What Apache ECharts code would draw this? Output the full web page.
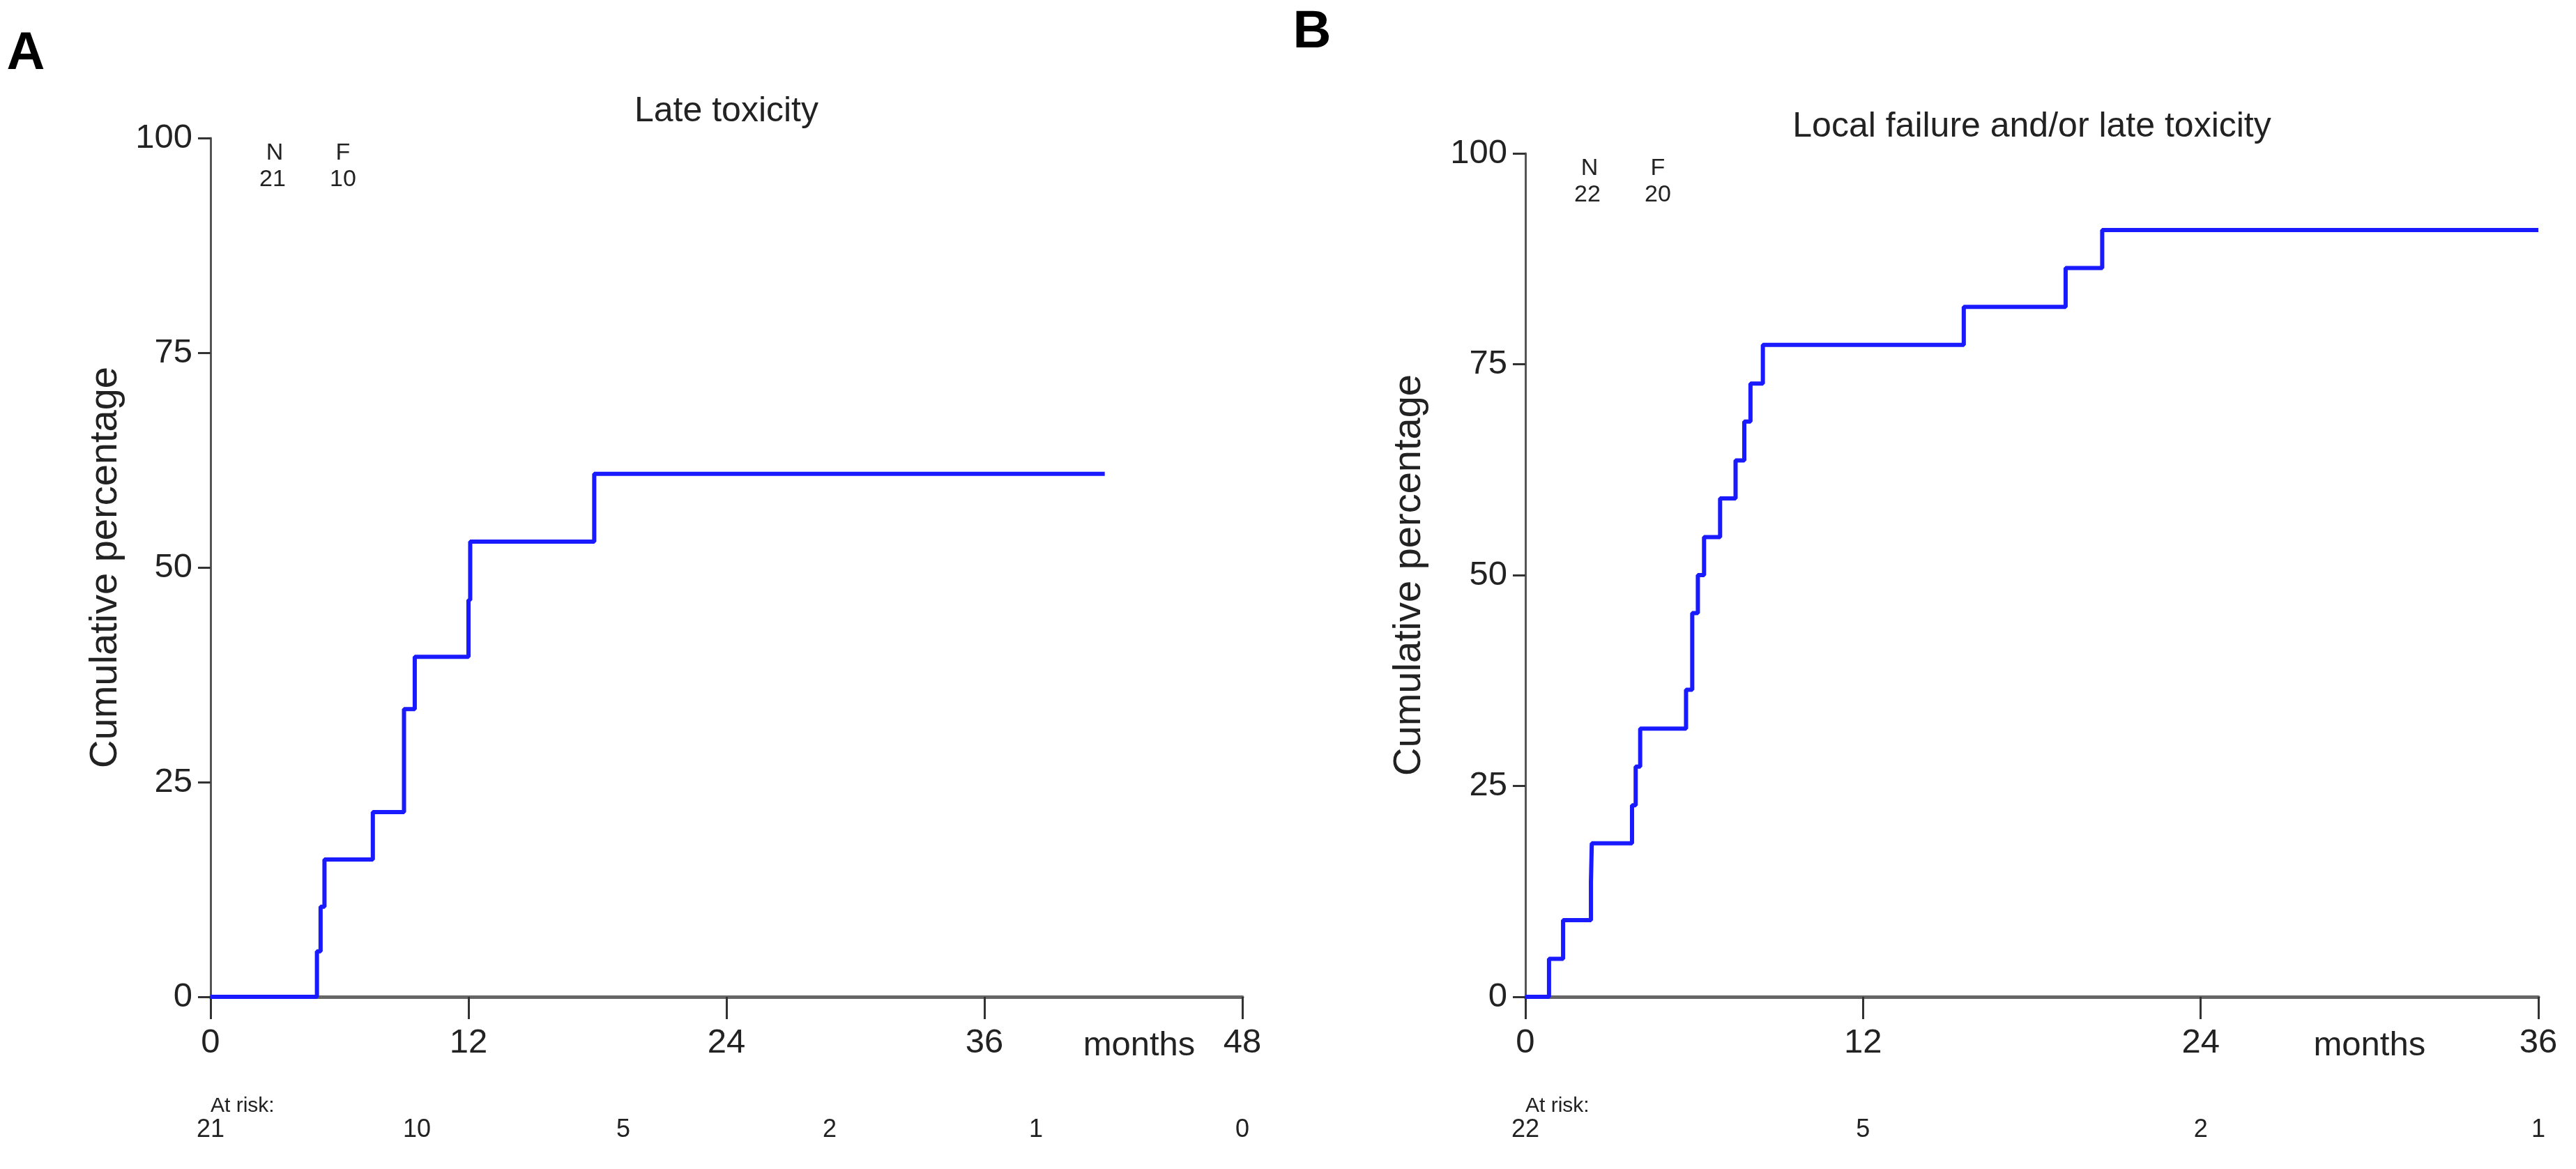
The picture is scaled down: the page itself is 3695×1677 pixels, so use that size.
<!DOCTYPE html>
<html>
<head>
<meta charset="utf-8">
<script src="https://cdn.jsdelivr.net/npm/echarts@6/dist/echarts.min.js"></script>
<style>
html,body{margin:0;padding:0;background:#fff;}
#c{width:3695px;height:1677px;}
</style>
</head>
<body>
<div id="c"></div>
<script>
// ---- Data ----
const panelLabels = ['A', 'B'];
const titles = ['Late toxicity', 'Local failure and/or late toxicity'];
const yTicks = [0, 25, 50, 75, 100];

// Panel A: Late toxicity (step times in months, cumulative %)
const timesA  = [0, 4.95, 5.12, 5.3, 7.55, 9.0, 9.5, 12.0, 12.08, 17.85, 41.6];
const valuesA = [0, 5.3, 10.5, 16.0, 21.5, 33.5, 39.6, 46.2, 53.0, 60.9, 60.9];
const xTicksA = [0, 12, 24, 36, 48];
const nfA = { N: 21, F: 10 };
const riskTimesA = [0, 9.6, 19.2, 28.8, 38.4, 48];
const riskA = [21, 10, 5, 2, 1, 0];

// Panel B: Local failure and/or late toxicity
const timesB  = [0, 0.84, 1.34, 2.33, 2.36, 3.79, 3.92, 4.08, 5.71, 5.93, 6.13, 6.35, 6.92, 7.47, 7.78, 8.0, 8.44, 15.58, 19.2, 20.5, 36];
const valuesB = [0, 4.5, 9.1, 13.6, 18.2, 22.7, 27.3, 31.8, 36.4, 45.5, 50.0, 54.5, 59.1, 63.6, 68.2, 72.7, 77.3, 81.8, 86.4, 90.9, 90.9];
const xTicksB = [0, 12, 24, 36];
const nfB = { N: 22, F: 20 };
const riskTimesB = [0, 12, 24, 36];
const riskB = [22, 5, 2, 1];

const monthsPos = [43.2, 30];

// ---- Chart ----
const FONT = "'Liberation Sans', Arial, sans-serif";
const chart = echarts.init(document.getElementById('c'), null, { renderer: 'canvas' });

const grids = [
  { left: 302, top: 198, width: 1480, height: 1232 },
  { left: 2188, top: 220, width: 1453, height: 1210 }
];

function xAxisCfg(idx, ticks) {
  return {
    type: 'value', gridIndex: idx, min: ticks[0], max: ticks[ticks.length - 1], interval: 12,
    axisLine: { show: true, onZero: false, lineStyle: { color: '#666', width: 5 } },
    axisTick: { show: true, length: 32, lineStyle: { color: '#333', width: 3 } },
    axisLabel: { fontSize: 49, color: '#222', margin: 42, fontFamily: FONT },
    splitLine: { show: false }
  };
}
function yAxisCfg(idx, gap) {
  return {
    type: 'value', gridIndex: idx, min: 0, max: 100, interval: 25,
    axisLine: { show: true, lineStyle: { color: '#555', width: 3 } },
    axisTick: { show: true, length: 18, lineStyle: { color: '#333', width: 3 } },
    axisLabel: { fontSize: 49, color: '#222', margin: 26, fontFamily: FONT },
    splitLine: { show: false },
    name: 'Cumulative percentage', nameLocation: 'middle', nameGap: gap,
    nameTextStyle: { fontSize: 56, color: '#222', fontFamily: FONT }
  };
}
function seriesCfg(idx, t, v) {
  return {
    type: 'line', xAxisIndex: idx, yAxisIndex: idx, step: 'end',
    data: t.map((x, i) => [x, v[i]]),
    showSymbol: false, symbol: 'none',
    lineStyle: { color: '#1a1aff', width: 6 },
    z: 5, animation: false
  };
}

chart.setOption({
  backgroundColor: '#fff',
  animation: false,
  grid: grids,
  xAxis: [xAxisCfg(0, xTicksA), xAxisCfg(1, xTicksB)],
  yAxis: [yAxisCfg(0, 122), yAxisCfg(1, 138)],
  series: [seriesCfg(0, timesA, valuesA), seriesCfg(1, timesB, valuesB)]
});

// ---- Extra text positioned from the axes ----
const g = [];
function txt(x, y, s, size, opts) {
  opts = opts || {};
  g.push({
    type: 'text', x: x, y: y, z: 10,
    style: {
      text: String(s), fontSize: size, fontFamily: FONT, fill: opts.fill || '#222',
      fontWeight: opts.bold ? 'bold' : 'normal',
      align: opts.align || 'center', verticalAlign: opts.va || 'middle'
    }
  });
}
const panels = [
  { nf: nfA, rt: riskTimesA, r: riskA },
  { nf: nfB, rt: riskTimesB, r: riskB }
];
const letterPos = [[37, 78], [1882, 47]];
panels.forEach((p, i) => {
  const gr = grids[i];
  const origin = chart.convertToPixel({ gridIndex: i }, [0, 0]);
  const top = chart.convertToPixel({ gridIndex: i }, [0, 100]);
  const cx = gr.left + gr.width / 2;
  txt(letterPos[i][0], letterPos[i][1], panelLabels[i], 76, { bold: true, fill: '#000' });
  txt(cx, top[1] - 38, titles[i], 50);
  // N / F header
  txt(origin[0] + 92, top[1] + 22, 'N', 34);
  txt(origin[0] + 89, top[1] + 60, p.nf.N, 34);
  txt(origin[0] + 190, top[1] + 22, 'F', 34);
  txt(origin[0] + 190, top[1] + 60, p.nf.F, 34);
  // months label
  const mp = chart.convertToPixel({ gridIndex: i }, [monthsPos[i], 0]);
  txt(mp[0], origin[1] + 70, 'months', 49);
  // at risk
  txt(origin[0], origin[1] + 157, 'At risk:', 30, { align: 'left' });
  p.rt.forEach((t, k) => {
    const px = chart.convertToPixel({ gridIndex: i }, [t, 0]);
    txt(px[0], origin[1] + 191, p.r[k], 36);
  });
});
chart.setOption({ graphic: g });
</script>
</body>
</html>
